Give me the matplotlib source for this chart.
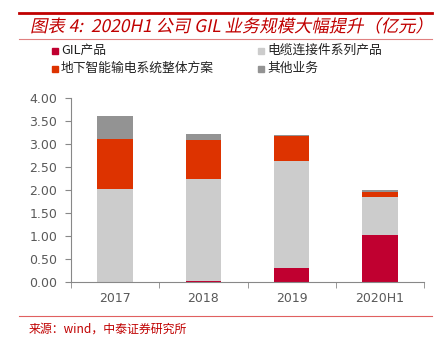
import matplotlib.pyplot as plt
from matplotlib.patches import Rectangle
from matplotlib.lines import Line2D
from matplotlib.patheffects import AbstractPathEffect
from matplotlib.transforms import Affine2D
import numpy as np

plt.rcParams['font.family'] = ['Noto Sans CJK SC', 'DejaVu Sans']

years = ['2017', '2018', '2019', '2020H1']
series_names = ['GIL产品', '电缆连接件系列产品', '地下智能输电系统整体方案', '其他业务']
gil = [0.00, 0.02, 0.30, 1.02]
cable = [2.03, 2.22, 2.32, 0.83]
underground = [1.07, 0.85, 0.55, 0.11]
other = [0.50, 0.12, 0.03, 0.04]
colors = ['#C00030', '#CCCCCC', '#DD3300', '#939393']

W, H = 448, 337


class Slant(AbstractPathEffect):
    # fake italic for CJK fonts: shear glyph paths about the baseline
    def __init__(self, y0, deg=12):
        super().__init__()
        self.y0, self.deg = y0, deg

    def draw_path(self, renderer, gc, tpath, affine, rgbFace=None):
        sk = Affine2D().translate(0, -self.y0).skew_deg(self.deg, 0).translate(0, self.y0)
        renderer.draw_path(gc, tpath, affine + sk, rgbFace)


fig = plt.figure(figsize=(W / 100, H / 100), dpi=100)
ax = fig.add_axes([71 / W, 1 - 282 / H, (424 - 71) / W, (282 - 98) / H])

x = np.arange(len(years))
bottom = np.zeros(len(years))
for vals, c in zip([gil, cable, underground, other], colors):
    ax.bar(x, vals, width=0.4, bottom=bottom, color=c, edgecolor='none')
    bottom += np.array(vals)

gray = '#595959'
ax.set_xlim(-0.5, 3.5)
ax.set_ylim(0, 4)
ax.set_yticks(np.arange(0, 4.01, 0.5))
ax.set_yticklabels(['%.2f' % v for v in np.arange(0, 4.01, 0.5)],
                   family='DejaVu Sans', fontsize=9, color=gray)
ax.set_xticks(x)
ax.set_xticklabels(years, family='DejaVu Sans', fontsize=9, color=gray)
ax.set_xticks(np.arange(-0.5, 3.6, 1), minor=True)
ax.tick_params(axis='x', which='major', length=0, pad=7)
ax.tick_params(axis='x', which='minor', length=4, color='#888888', direction='out')
ax.tick_params(axis='y', length=4, color='#888888', pad=6)
for s in ['top', 'right']:
    ax.spines[s].set_visible(False)
for s in ['left', 'bottom']:
    ax.spines[s].set_color('#888888')
    ax.spines[s].set_linewidth(0.8)

red = '#C00000'
# header / footer rules
fig.add_artist(Line2D([19 / W, 432 / W], [1 - 13 / H] * 2, color=red, lw=2))
fig.add_artist(Line2D([19 / W, 432 / W], [1 - 39 / H] * 2, color='#E08080', lw=0.8))
fig.add_artist(Line2D([19 / W, 432 / W], [1 - 316 / H] * 2, color='#E06060', lw=0.8))

title_y = 27
fig.text(30 / W, 1 - title_y / H, '图表 4:  2020H1 公司 GIL 业务规模大幅提升（亿元）',
         color=red, fontsize=12.5, va='center',
         path_effects=[Slant(H - title_y - 5)])
fig.text(29 / W, 1 - 329 / H, '来源：wind，中泰证券研究所', color=red, fontsize=8.6, va='center')

# legend
leg_pos = [(52, 50), (258, 50), (52, 68), (258, 68)]
for (lx, ly), name, c in zip(leg_pos, series_names, colors):
    fig.add_artist(Rectangle((lx / W, 1 - (ly + 3.5) / H), 6 / W, 6 / H,
                             transform=fig.transFigure, color=c))
    fig.text((lx + 9) / W, 1 - ly / H, name, fontsize=9.2, color='#222222', va='center')

fig.savefig('out.png', dpi=100)
